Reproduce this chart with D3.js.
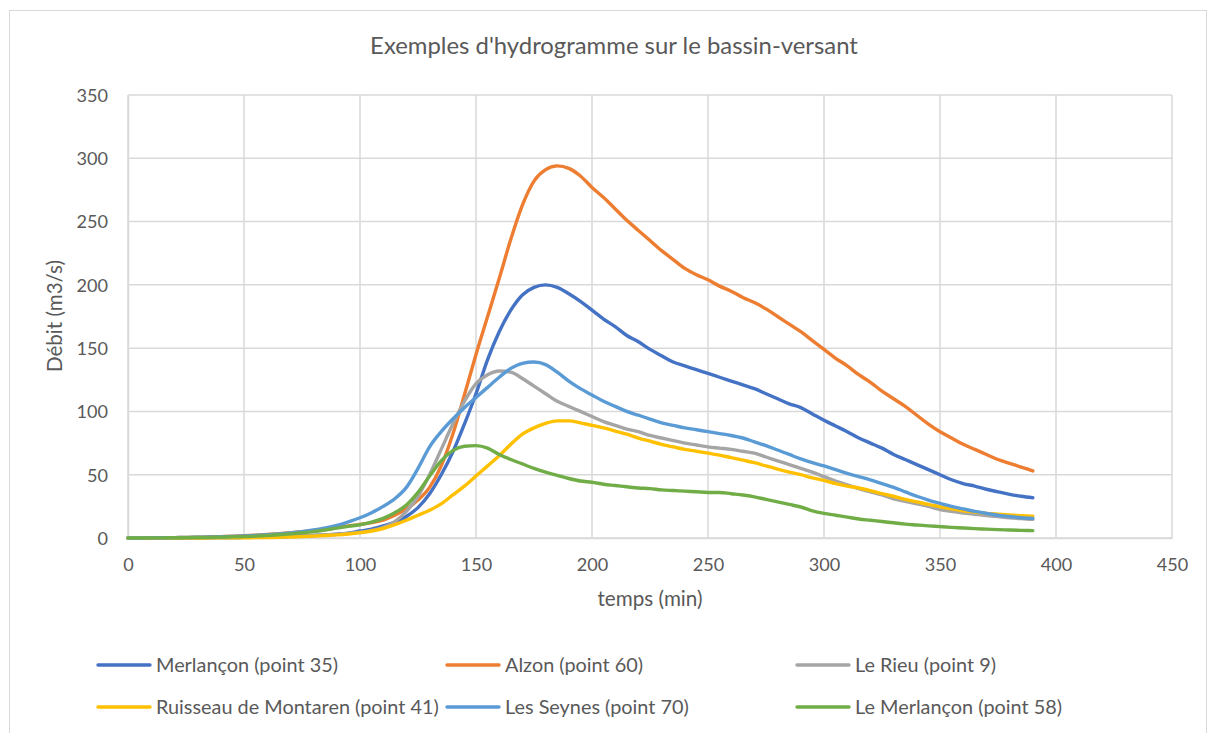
<!DOCTYPE html>
<html>
<head>
<meta charset="utf-8">
<script src="https://cdn.jsdelivr.net/npm/d3@7"></script>
<style>
  html, body { margin: 0; padding: 0; background: #ffffff; }
  svg { display: block; }
  text { font-family: Lato, "Open Sans", "Liberation Sans", sans-serif; fill: #595959; }
</style>
</head>
<body>
<svg id="chart" width="1208" height="733"></svg>
<script>
// Time steps (min), every 5 minutes from 0 to 390
const temps = d3.range(0, 391, 5);

// Discharge (m3/s) per station, one value per time step
const merlancon35 = [
  0,0,0,0,0.1,0.1,0.2,0.2,0.3,0.4,
  0.5,0.6,0.8,1,1.3,1.6,2,2.5,3,3.8,
  5.5,7,9.5,12.5,17,24,35,50,68,90,
  114,141,163,180,192,198,200,198,193,187,
  180,173,167,160,155,149,144,139,136,133,
  130,127,124,121,118,114,110,106,103,98,
  93,88.5,84,79,75,71,66,62,58,54,
  50,46,43,41,38.5,36.5,34.5,33,31.8];
const alzon60 = [
  0,0,0.1,0.2,0.3,0.4,0.6,0.8,1.1,1.4,
  1.8,2.3,2.8,3.4,4.2,5,6,7.2,8.4,9.6,
  10.8,12.2,14.2,18,23,30,40,57,82,113,
  145,175,205,236,263,282,291,294,292,286,
  277,269,260,251,243,235,227,220,213,208,
  204,199,195,190,186,181,175,169,163,156,
  149,142,136,129,123,116,110,104,97,90,
  84,79,74,70,66,62,59,56,53];
const leRieu9 = [
  0,0,0,0,0.1,0.1,0.2,0.2,0.3,0.4,
  0.5,0.6,0.8,1,1.3,1.6,2,2.5,3,3.7,
  4.5,6,8.5,13,21,33,50,70,90,108,
  122,129,132,131,126,120,114,108,104,100,
  96,92,89,86,84,81,79,77,75,73.5,
  72,71,70,68.5,67,64,61,58,55,52,
  48.5,45,42,39,36.5,34,31,29,27,25,
  22.5,21,19.8,18.8,17.8,16.9,16,15.3,14.7];
const montaren41 = [
  0,0,0,0,0,0,0,0.1,0.1,0.1,
  0.2,0.3,0.4,0.6,0.8,1.1,1.5,2,2.5,3.2,
  4.2,5.5,7.5,10.5,14,18,22,27,34,41,
  49,57,65,74,82,87,90.5,92.5,92.5,91,
  89,87,84.5,82,79,76.5,74,72,70,68.5,
  67,65.5,63.5,61.5,59.5,57,54.5,52,50,47.5,
  45.5,43,41,39.5,37.5,35,33,30.5,28.5,26.5,
  24.7,23,21.5,20.5,19.5,18.8,18.2,17.7,17.2];
const lesSeynes70 = [
  0,0,0.1,0.2,0.3,0.4,0.6,0.8,1,1.3,
  1.6,2,2.6,3.2,4,5,6.3,8,10,12.8,
  16,20,25,31,40,55,72,84,94,103,
  111,119,127,134,138,139,137,131,124,118,
  113,108,104,100,97,94,91,89,87,85.5,
  84,82.5,81,79,76,73,69.5,66,62.5,59.5,
  57,54,51,48.5,46,43,40,36.5,33,30,
  27.4,25,23,21,19.5,18,17,16,15.5];
const leMerlancon58 = [
  0,0,0.1,0.1,0.2,0.3,0.4,0.5,0.7,0.9,
  1.1,1.5,2,2.6,3.3,4.1,5,6.3,7.8,9.2,
  10.5,12.5,15.5,20,26,36,49,61,69,72.5,
  73,71,66,62,58.5,55,52,49.5,47,45,
  44,42.5,41.5,40.5,39.5,39,38,37.5,37,36.5,
  36,36,35,34,32.5,30.5,28.5,26.5,24.5,21.5,
  19.5,18,16.5,15,14,13,12,11,10.3,9.6,
  9,8.4,7.9,7.4,7,6.6,6.3,6,5.8];

const seriesNames = ["Merlançon (point 35)", "Alzon (point 60)", "Le Rieu (point 9)",
  "Ruisseau de Montaren (point 41)", "Les Seynes (point 70)", "Le Merlançon (point 58)"];
const seriesValues = [merlancon35, alzon60, leRieu9, montaren41, lesSeynes70, leMerlancon58];
const seriesColors = ["#4472C4", "#ED7D31", "#A5A5A5", "#FFC000", "#5B9BD5", "#70AD47"];

const xTicks = [0, 50, 100, 150, 200, 250, 300, 350, 400, 450];
const yTicks = [0, 50, 100, 150, 200, 250, 300, 350];

const chartTitle = "Exemples d'hydrogramme sur le bassin-versant";
const xTitle = "temps (min)";
const yTitle = "Débit (m3/s)";

// ---- layout ----
const plot = { left: 128, right: 1172, top: 95, bottom: 538 };
const svg = d3.select("#chart");

// scale a font size so a label spans a given width
function fitText(sel, width) {
  const w = sel.node().getComputedTextLength();
  const fs = parseFloat(sel.attr("font-size"));
  sel.attr("font-size", (fs * width / w).toFixed(2));
  return sel;
}

// outer chart frame
svg.append("rect")
  .attr("x", 9.5).attr("y", 10.5).attr("width", 1197).attr("height", 760)
  .attr("fill", "#ffffff").attr("stroke", "#d9d9d9").attr("stroke-width", 1);

const x = d3.scaleLinear().domain([0, 450]).range([plot.left, plot.right]);
const y = d3.scaleLinear().domain([0, 350]).range([plot.bottom, plot.top]);

// gridlines
const grid = svg.append("g");
grid.selectAll("line.h").data(yTicks).join("line")
  .attr("x1", plot.left).attr("x2", plot.right)
  .attr("y1", d => y(d)).attr("y2", d => y(d))
  .attr("stroke", "#d9d9d9").attr("stroke-width", 1.5);
grid.selectAll("line.v").data(xTicks).join("line")
  .attr("y1", plot.top).attr("y2", plot.bottom)
  .attr("x1", d => x(d)).attr("x2", d => x(d))
  .attr("stroke", "#d9d9d9").attr("stroke-width", 1.5);

// axes
const xAxis = svg.append("g").attr("transform", `translate(0,${plot.bottom})`)
  .call(d3.axisBottom(x).tickValues(xTicks).tickSize(0).tickPadding(0));
xAxis.select(".domain").attr("stroke", "#d9d9d9").attr("stroke-width", 1.5);
xAxis.selectAll("text").attr("font-size", 18).attr("dy", null).attr("y", 33)
  .attr("fill", "#595959").style("font-family", "Lato, 'Open Sans', sans-serif");

const yAxis = svg.append("g").attr("transform", `translate(${plot.left},0)`)
  .call(d3.axisLeft(y).tickValues(yTicks).tickSize(0).tickPadding(0));
yAxis.select(".domain").attr("stroke", "#d9d9d9").attr("stroke-width", 1.5);
yAxis.selectAll("text").attr("font-size", 18).attr("x", -20).attr("dy", "0.35em")
  .attr("fill", "#595959").style("font-family", "Lato, 'Open Sans', sans-serif");

// size the tick labels from the widest one
const probe = yAxis.selectAll("text").filter(d => d === 350);
const tickW = probe.node().getComputedTextLength();
const tickFs = (18 * 31.5 / tickW).toFixed(2);
xAxis.selectAll("text").attr("font-size", tickFs);
yAxis.selectAll("text").attr("font-size", tickFs);

// series lines
const line = d3.line()
  .x((d, i) => x(temps[i]))
  .y(d => y(d))
  .curve(d3.curveMonotoneX);

svg.append("g").selectAll("path").data(seriesValues).join("path")
  .attr("d", d => line(d))
  .attr("fill", "none")
  .attr("stroke", (d, i) => seriesColors[i])
  .attr("stroke-width", 3.4)
  .attr("stroke-linejoin", "round")
  .attr("stroke-linecap", "round");

// titles
fitText(svg.append("text").text(chartTitle)
  .attr("x", 614).attr("y", 54).attr("text-anchor", "middle").attr("font-size", 20), 488);

fitText(svg.append("text").text(xTitle)
  .attr("x", 650).attr("y", 606).attr("text-anchor", "middle").attr("font-size", 17), 105);

fitText(svg.append("text").text(yTitle)
  .attr("transform", "translate(62,316) rotate(-90)")
  .attr("text-anchor", "middle").attr("font-size", 17), 112);

// legend: three columns, two rows
const legendCols = [98, 447, 797];
const legendRows = [665, 707];
const legend = svg.append("g");
const items = legend.selectAll("g").data(seriesNames).join("g")
  .attr("transform", (d, i) => `translate(${legendCols[i % 3]},${legendRows[Math.floor(i / 3)]})`);
items.append("line")
  .attr("x1", 0).attr("x2", 52).attr("y1", 0).attr("y2", 0)
  .attr("stroke", (d, i) => seriesColors[i]).attr("stroke-width", 3.4)
  .attr("stroke-linecap", "round");
const labels = items.append("text").text(d => d)
  .attr("x", 58).attr("dy", "0.35em").attr("font-size", 17);
const refLabel = labels.filter(d => d === "Ruisseau de Montaren (point 41)");
const legW = refLabel.node().getComputedTextLength();
labels.attr("font-size", (17 * 283 / legW).toFixed(2));
</script>
</body>
</html>
